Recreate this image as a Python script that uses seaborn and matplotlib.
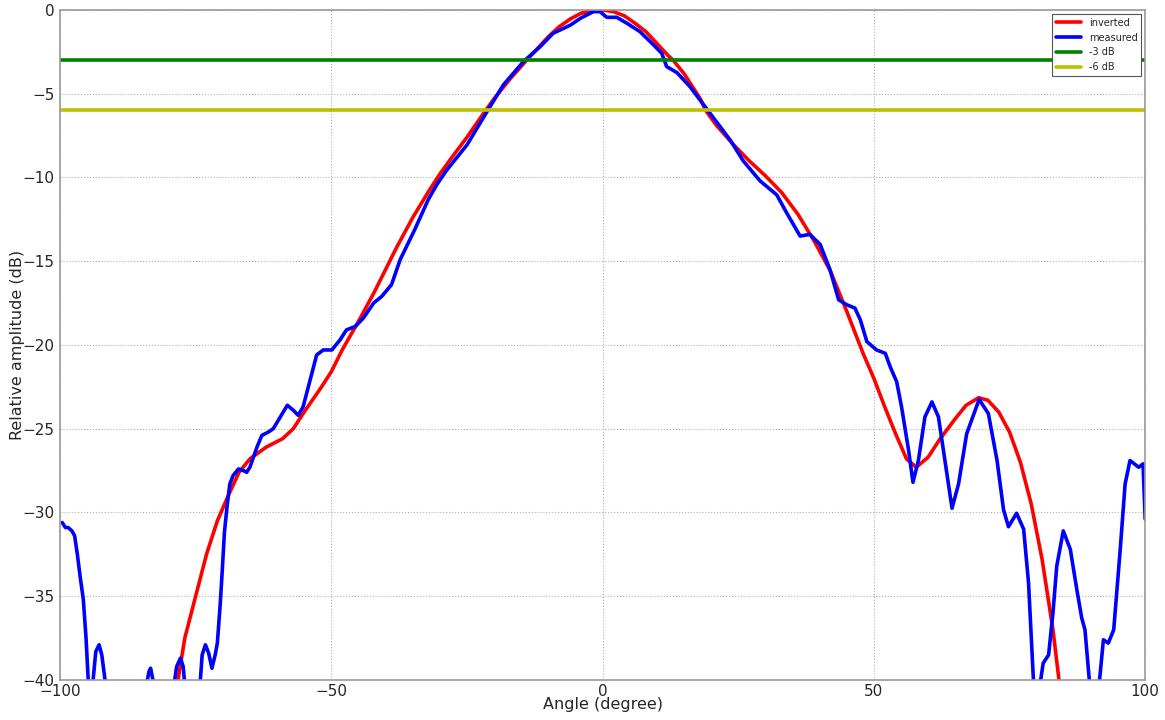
import matplotlib
matplotlib.use("Agg")
import matplotlib.pyplot as plt
import seaborn as sns
import pandas as pd

# inverted (model) pattern
inv_angle = [-78.5, -77, -75, -73, -71, -69, -67, -65, -62, -59, -57, -55, -52, -50, -48,
             -45, -42, -40, -38, -35, -32, -30, -28, -25, -22, -20, -17, -14, -12, -10,
             -8, -6, -4, -2, 0, 2, 4, 6, 8, 10, 12, 13, 15, 18, 19, 21, 24, 27, 30, 33,
             36, 39, 42, 45, 48, 50, 52, 54, 56, 57.8, 60, 62, 65, 67, 69.3, 71, 73, 75,
             77, 79, 81, 83, 84.3]
inv_db = [-40.5, -37.5, -35.0, -32.5, -30.5, -29.0, -27.6, -26.8, -26.1, -25.6, -25.0,
          -24.0, -22.6, -21.6, -20.3, -18.6, -16.8, -15.5, -14.2, -12.4, -10.8, -9.8,
          -8.9, -7.6, -6.2, -5.3, -4.1, -3.0, -2.3, -1.6, -1.0, -0.55, -0.2, -0.05, 0.0,
          -0.1, -0.35, -0.8, -1.3, -2.0, -2.7, -3.0, -3.8, -5.3, -6.0, -6.9, -8.0, -9.0,
          -9.9, -10.9, -12.2, -13.8, -15.6, -18.0, -20.5, -22.0, -23.7, -25.3, -26.8,
          -27.3, -26.7, -25.7, -24.4, -23.6, -23.15, -23.3, -24.0, -25.2, -27.0, -29.5,
          -32.8, -37.0, -40.5]

# measured pattern
meas_angle = [-99.6, -99.0, -98.5, -97.8, -97.3, -96.8, -96.3, -95.7, -95.2, -94.8, -94.4,
              -93.9, -93.4, -92.8, -92.3, -91.7, -91.2, -85.0, -84.2, -83.6, -83.3, -83.0,
              -82.5, -80.0, -79.0, -78.5, -77.8, -77.3, -77.0, -75.0, -74.2, -73.8, -73.2,
              -72.6, -72.0, -71.4, -71.0, -70.5, -70.1, -69.7, -69.2, -68.7, -68.1, -67.1,
              -66.2, -65.6, -65.0, -63.7, -62.8, -61.6, -60.7, -59.4, -58.1, -57.0, -56.1,
              -55.2, -53.9, -52.7, -51.5, -49.9, -48.4, -47.2, -45.6, -44.1, -42.2, -40.7,
              -38.9, -37.3, -34.6, -32.1, -30.5, -28.7, -25.0, -21.3, -18.3, -14.6, -11.5,
              -9.1, -5.9, -4.1, -1.7, -0.5, 0.77, 2.6, 4.5, 6.9, 9.4, 10.9, 11.8, 13.7,
              16.1, 19.8, 23.5, 25.9, 29.0, 32.1, 33.9, 36.4, 38.2, 40.1, 41.9, 43.5, 45.0,
              46.5, 47.5, 48.7, 50.5, 52.1, 53.0, 54.2, 55.1, 55.8, 56.4, 57.2, 58.2, 59.4,
              60.7, 61.9, 63.1, 64.4, 65.6, 67.1, 69.4, 71.1, 72.7, 73.9, 74.8, 76.3, 77.6,
              78.5, 79.4, 80.0, 80.6, 81.2, 82.2, 83.0, 83.7, 84.9, 86.2, 87.4, 88.3, 88.9,
              89.7, 90.5, 91.5, 92.3, 93.2, 94.2, 95.4, 96.3, 97.2, 98.8, 99.6, 100.0]
meas_db = [-30.6, -30.9, -30.9, -31.1, -31.4, -32.5, -33.8, -35.2, -37.5, -40.0, -42.0,
           -40.0, -38.3, -37.9, -38.5, -40.0, -42.0, -43.0, -40.5, -39.5, -39.3, -39.8,
           -40.5, -43.0, -40.3, -39.2, -38.7, -39.2, -40.3, -43.0, -40.3, -38.5, -37.9,
           -38.4, -39.3, -38.5, -37.8, -35.6, -33.5, -31.2, -29.6, -28.3, -27.8, -27.4,
           -27.5, -27.6, -27.3, -26.1, -25.4, -25.2, -25.0, -24.3, -23.6, -23.9, -24.2,
           -23.7, -22.1, -20.6, -20.3, -20.3, -19.7, -19.1, -18.9, -18.4, -17.5, -17.1,
           -16.4, -14.9, -13.1, -11.3, -10.4, -9.55, -8.06, -6.07, -4.48, -3.09, -2.19,
           -1.39, -0.9, -0.5, -0.1, -0.1, -0.44, -0.44, -0.8, -1.3, -2.09, -2.59, -3.38,
           -3.74, -4.58, -6.17, -7.76, -9.0, -10.2, -11.04, -12.1, -13.5, -13.4, -14.0,
           -15.5, -17.3, -17.6, -17.8, -18.5, -19.8, -20.3, -20.5, -21.3, -22.2, -23.7,
           -25.1, -26.3, -28.2, -26.9, -24.3, -23.4, -24.3, -26.9, -29.75, -28.3, -25.3,
           -23.25, -24.1, -26.9, -29.85, -30.85, -30.05, -31.0, -34.2, -40.0, -42.0,
           -40.3, -39.0, -38.5, -36.0, -33.2, -31.1, -32.2, -34.6, -36.3, -37.0, -40.0,
           -42.0, -40.3, -37.6, -37.8, -37.0, -32.2, -28.3, -26.9, -27.3, -27.1, -30.4]

levels = [-3, -6]
level_labels = ["-3 dB", "-6 dB"]
level_colors = ["#008000", "#bfbf00"]

sns.set_style("whitegrid", {"grid.linestyle": ":", "grid.color": "#b0b0b0",
                            "axes.edgecolor": "#999999"})
plt.rcParams["font.family"] = ["DejaVu Sans"]

inv = pd.DataFrame({"angle": inv_angle, "db": inv_db})
meas = pd.DataFrame({"angle": meas_angle, "db": meas_db})

fig = plt.figure(figsize=(11.65, 7.2), dpi=100)
ax = fig.add_axes([0.0515, 0.0556, 0.9315, 0.9306])

sns.lineplot(data=inv, x="angle", y="db", ax=ax, color="red", lw=2.6,
             estimator=None, sort=False, label="inverted")
sns.lineplot(data=meas, x="angle", y="db", ax=ax, color="blue", lw=2.6,
             estimator=None, sort=False, label="measured")
for lv, lab, col in zip(levels, level_labels, level_colors):
    ax.axhline(lv, color=col, lw=2.6, label=lab)

ax.set_xlim(-100, 100)
ax.set_ylim(-40, 0)
ax.set_xticks([-100, -50, 0, 50, 100])
ax.set_yticks(range(-40, 1, 5))
ax.tick_params(labelsize=11, length=0)
ax.tick_params(axis="x", pad=3)
ax.tick_params(axis="y", pad=4)
ax.set_xlabel("Angle (degree)", fontsize=11.5)
ax.set_ylabel("Relative amplitude (dB)", fontsize=11.5)
ax.xaxis.set_label_coords(0.5, -0.026)
ax.yaxis.set_label_coords(-0.032, 0.5)
for s in ax.spines.values():
    s.set_linewidth(1.2)

leg = ax.legend(loc="upper right", fontsize=7, fancybox=False, framealpha=1,
                edgecolor="#555555", handlelength=2.6, borderaxespad=0.4)
leg.get_frame().set_linewidth(0.8)

plt.savefig("out.png", dpi=100)
plt.close()
